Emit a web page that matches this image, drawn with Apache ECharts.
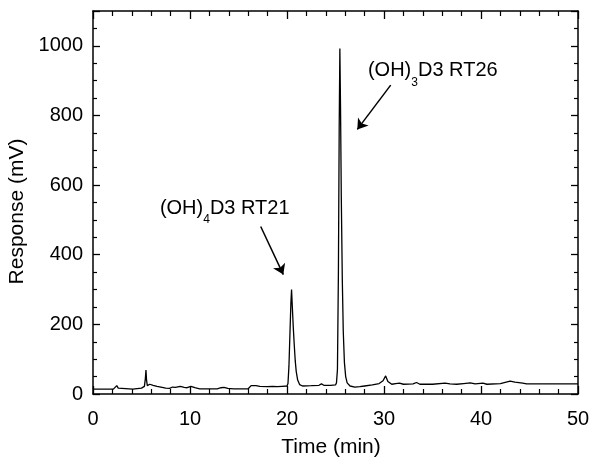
<!DOCTYPE html>
<html>
<head>
<meta charset="utf-8">
<script src="https://cdn.jsdelivr.net/npm/echarts@6/dist/echarts.min.js"></script>
<style>
html,body{margin:0;padding:0;background:#fff;}
#chart{width:600px;height:467px;}
</style>
</head>
<body>
<div id="chart"></div>
<script>
// Chromatogram trace (time in min, response in mV)
const timeMin = [
  0, 2.1, 2.3, 2.45, 2.6, 2.8, 4.1, 4.3, 5.0, 5.3, 5.4, 5.46, 5.52, 5.6, 5.85,
  6.2, 6.6, 7.0, 7.5, 7.9, 8.2, 8.5, 9.0, 9.4, 9.7, 10.1, 10.5, 11.0, 12.8, 13.2,
  13.5, 13.9, 14.5, 16.0, 16.3, 16.5, 16.8, 17.2, 18.0, 18.5, 19.0, 19.5, 20.0, 20.1,
  20.2, 20.3, 20.4, 20.47, 20.55, 20.65, 20.75, 20.85, 20.95, 21.1, 21.3, 21.6, 22.5,
  23.3, 23.55, 23.8, 24.5, 25.0, 25.1, 25.2, 25.3, 25.38, 25.45, 25.52, 25.6, 25.7,
  25.8, 25.92, 26.05, 26.2, 26.5, 27.0, 27.5, 28.0, 28.8, 29.5, 29.9, 30.17, 30.4,
  30.8, 31.2, 31.6, 32.0, 33.0, 33.35, 33.7, 35.0, 36.3, 36.8, 37.5, 38.2, 38.9,
  39.4, 40.2, 40.6, 42.0, 43.0, 43.5, 44.3, 44.7, 50
];
const responseMv = [
  14, 14, 18, 24, 17, 14, 14, 15, 17, 22, 45, 69, 40, 24, 28,
  25, 22, 20, 17, 16, 20, 19, 22, 19, 18, 22, 18, 15, 15, 18,
  19, 16, 15, 15, 24, 28, 24, 22, 21, 22, 21, 22, 23, 30,
  80, 170, 260, 300, 250, 190, 140, 95, 65, 40, 27, 23, 24,
  25, 29, 25, 25, 26, 32, 70, 350, 760, 992, 820, 560, 330,
  180, 90, 50, 32, 23, 20, 21, 23, 26, 30, 38, 52, 36,
  28, 30, 31, 28, 29, 33, 28, 28, 31, 29, 28, 30, 32,
  29, 31, 28, 30, 37, 34, 31, 29, 29
];
// Peak annotations
const peakLabels = ['{a|(OH)}{s|4}{a|D3 RT21}', '{a|(OH)}{s|3}{a|D3 RT26}'];
const labelAnchors = [[13.58, 534], [35.03, 928]];
const arrowStarts = [[17.29, 481], [30.69, 887]];
const arrowEnds = [[19.62, 343], [27.25, 760]];

const xTicks = {min: 0, max: 50, interval: 10};
const yTicks = {min: 0, max: 1100, interval: 200};

const FONT = "'Liberation Sans', Arial, Helvetica, sans-serif";
const seriesData = timeMin.map((t, i) => [t, responseMv[i]]);

const chart = echarts.init(document.getElementById('chart'), null, {renderer: 'canvas'});

function xAxisCfg(pos, showLabel) {
  return {
    type: 'value', position: pos, min: xTicks.min, max: xTicks.max, interval: xTicks.interval,
    axisLine: {show: true, onZero: false, lineStyle: {color: '#000', width: 1.5}},
    axisTick: {show: true, inside: true, length: 8, lineStyle: {color: '#000', width: 1.3}},
    minorTick: {show: true, splitNumber: 5, length: 5, lineStyle: {color: '#000', width: 1.2}},
    splitLine: {show: false}, minorSplitLine: {show: false},
    axisLabel: {show: showLabel, fontSize: 20, fontFamily: FONT, color: '#000', margin: 15,
      formatter: v => String(v)},
    name: showLabel ? 'Time (min)' : '',
    nameLocation: 'middle', nameGap: 43,
    nameTextStyle: {fontSize: 21, fontFamily: FONT, color: '#000', padding: [0, 9, 0, 0]}
  };
}
function yAxisCfg(pos, showLabel) {
  return {
    type: 'value', position: pos, min: yTicks.min, max: yTicks.max, interval: yTicks.interval,
    axisLine: {show: true, onZero: false, lineStyle: {color: '#000', width: 1.5}},
    axisTick: {show: true, inside: true, length: 7, lineStyle: {color: '#000', width: 1.3}},
    minorTick: {show: true, splitNumber: 4, length: 4, lineStyle: {color: '#000', width: 1.2}},
    splitLine: {show: false}, minorSplitLine: {show: false},
    axisLabel: {show: showLabel, showMaxLabel: false, fontSize: 20, fontFamily: FONT, color: '#000', margin: 10,
      formatter: v => String(v)},
    name: showLabel ? 'Response (mV)' : '',
    nameLocation: 'middle', nameGap: 57,
    nameTextStyle: {fontSize: 21, fontFamily: FONT, color: '#000', padding: [0, 18, 0, 0]}
  };
}

const richStyle = {
  a: {fontSize: 20, fontFamily: FONT, color: '#000', lineHeight: 36, verticalAlign: 'middle'},
  s: {fontSize: 12, fontFamily: FONT, color: '#000', lineHeight: 12, verticalAlign: 'bottom'}
};

chart.setOption({
  animation: false,
  backgroundColor: '#fff',
  grid: {left: 93, right: 22, top: 11, bottom: 73, containLabel: false, outerBoundsMode: 'none'},
  xAxis: [xAxisCfg('bottom', true), xAxisCfg('top', false)],
  yAxis: [yAxisCfg('left', true), yAxisCfg('right', false)],
  series: [{
    type: 'line',
    xAxisIndex: 0, yAxisIndex: 0,
    data: seriesData,
    showSymbol: false,
    symbol: 'none',
    lineStyle: {color: '#000', width: 1.3},
    silent: true,
    markPoint: {
      silent: true,
      symbol: 'circle', symbolSize: 0,
      label: {show: true, position: 'inside', rich: richStyle},
      data: labelAnchors.map((c, i) => ({
        coord: c,
        label: {formatter: peakLabels[i]}
      }))
    },
    markLine: {
      silent: true,
      symbol: ['none', 'arrow'],
      symbolSize: 10,
      label: {show: false},
      lineStyle: {color: '#000', width: 1.5, type: 'solid'},
      data: arrowStarts.map((s, i) => [{coord: s}, {coord: arrowEnds[i]}])
    }
  }]
});
</script>
</body>
</html>
